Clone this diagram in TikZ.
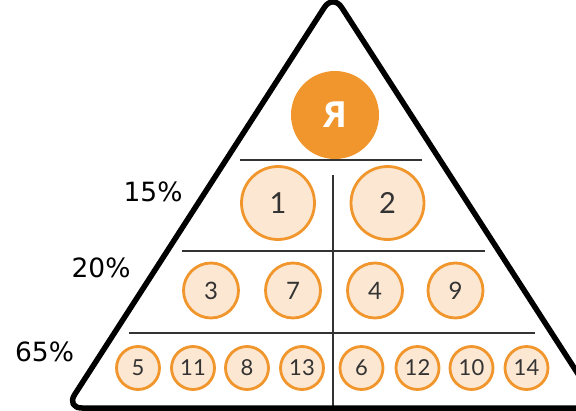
\documentclass[tikz,border=0pt]{standalone}
\usepackage{fontspec}
\setmainfont{Lato}
\newfontfamily\pctfont{DejaVu Sans}
\newfontfamily\yafont{Open Sans}
\definecolor{orng}{HTML}{F0962C}
\definecolor{peach}{HTML}{FCE7D2}
\definecolor{ink}{HTML}{333333}
\begin{document}
\begin{tikzpicture}[x=1pt,y=-1pt,
  disc/.style={circle, draw=orng, fill=peach, line width=2.8pt, inner sep=0pt, text=ink},
  bigdisc/.style={disc, minimum size=73pt, font=\fontsize{29}{29}\selectfont},
  middisc/.style={disc, minimum size=55pt, font=\fontsize{24}{24}\selectfont},
  smalldisc/.style={disc, minimum size=43pt, font=\fontsize{22}{22}\selectfont},
  sepline/.style={draw=ink, line width=2pt},
  pct/.style={inner sep=0pt, font=\pctfont\fontsize{26.5}{26.5}\selectfont},
  frame/.style={draw=black, line width=5.5pt, rounded corners=16pt, line join=round}]
\useasboundingbox (0,0) rectangle (576,410);
\clip (0,0) rectangle (576,410);
% separators
\draw[sepline] (240,160) -- (422,160);
\draw[sepline] (182,251) -- (485,251);
\draw[sepline] (129,333) -- (535,333);
\draw[sepline] (333,175) -- (333,408);
% pyramid outline
\coordinate (apex) at (333,-6);
\coordinate (bl) at (66,408);
\coordinate (br) at (600,408);
\draw[frame] (apex) -- (br) -- (bl) -- cycle;
% top
\node[circle, fill=orng, minimum size=88pt, inner sep=0pt, text=white,
      font=\yafont\bfseries\fontsize{36}{36}\selectfont] (ya) at (335,115) {Я};
% row 1
\node[bigdisc] (n1) at (278,203) {1};
\node[bigdisc] (n2) at (387.5,203) {2};
% row 2
\node[middisc] (n3) at (211,290.5) {3};
\node[middisc] (n7) at (293,290.5) {7};
\node[middisc] (n4) at (375,290.5) {4};
\node[middisc] (n9) at (455.5,290.5) {9};
% row 3
\node[smalldisc] (n5) at (138,368) {5};
\node[smalldisc] (n11) at (193,368) {11};
\node[smalldisc] (n8) at (247,368) {8};
\node[smalldisc] (n13) at (302,368) {13};
\node[smalldisc] (n6) at (361.5,368) {6};
\node[smalldisc] (n12) at (417.5,368) {12};
\node[smalldisc] (n10) at (471.5,368) {10};
\node[smalldisc] (n14) at (526.5,368) {14};
% percentages
\node[pct] (p15) at (153,192) {15\%};
\node[pct] (p20) at (101,268) {20\%};
\node[pct] (p65) at (44.5,352) {65\%};
\end{tikzpicture}
\end{document}
